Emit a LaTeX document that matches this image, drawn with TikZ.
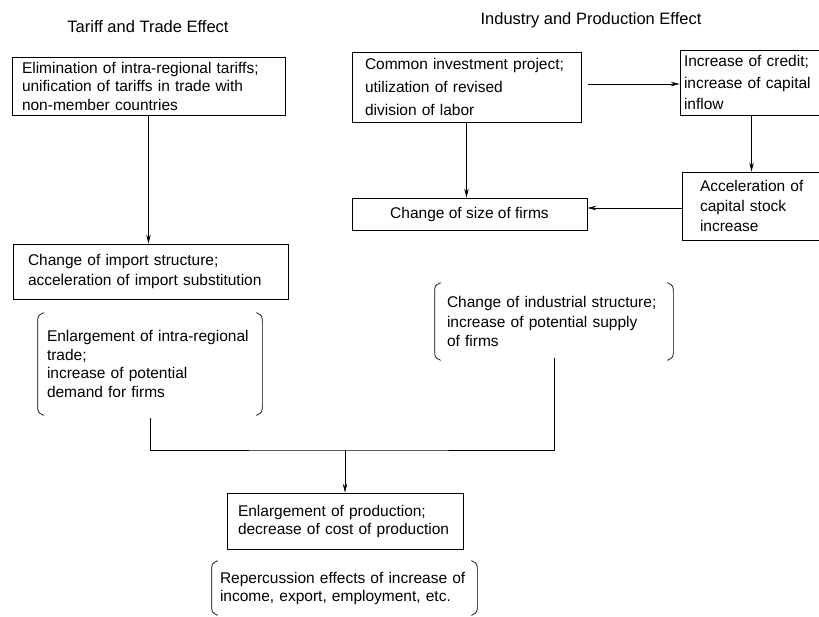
\documentclass[tikz,border=0pt]{standalone}
\usepackage{fontspec}
\setmainfont{Liberation Sans}
\usetikzlibrary{arrows.meta}
\tikzset{
	box/.style={draw, line width=0.7pt, inner sep=0pt, align=left, font={\fontsize{15.5}{18.5}\selectfont}},
	brk/.style={inner sep=0pt, align=left, font={\fontsize{15.5}{18.5}\selectfont}},
	head/.style={font={\fontsize{16.5}{18}\selectfont}}
}
\begin{document}
\begin{tikzpicture}[x=1pt, y=-1pt, >={Stealth[length=9pt,width=4.5pt]}, line width=0.7pt]
	\useasboundingbox (0,0) rectangle (819,616);
	% Headings
	\node[head] (tthead) at (148,27) {Tariff and Trade Effect};
	\node[head] (iphead) at (591,20) {Industry and Production Effect};
	% Tariff and trade side
	\node[box, minimum width=273pt, minimum height=58pt, text width=253pt] (elim) at (148.5,86)
		{Elimination of intra-regional tariffs;\\unification of tariffs in trade with\\non-member countries};
	\node[box, minimum width=275pt, minimum height=55pt, text width=245pt, font={\fontsize{15.5}{20}\selectfont}] (imp) at (150.5,271.5)
		{Change of import structure;\\acceleration of import substitution};
	\node[brk, minimum width=224pt, minimum height=98pt, text width=206pt] (enl) at (150,364)
		{Enlargement of intra-regional\\trade;\\increase of potential\\demand for firms};
	% Industry and production side
	\node[box, minimum width=229pt, minimum height=70pt, text width=203pt, font={\fontsize{15.5}{23}\selectfont}] (inv) at (466.5,87)
		{Common investment project;\\utilization of revised\\division of labor};
	\node[box, minimum width=155pt, minimum height=65pt, text width=147pt, font={\fontsize{15.5}{21.5}\selectfont}] (cred) at (757.5,82.5)
		{Increase of credit;\\increase of capital\\inflow};
	\node[box, minimum width=153pt, minimum height=68pt, text width=117pt, font={\fontsize{15.5}{20}\selectfont}] (accel) at (758.5,206)
		{Acceleration of\\capital stock\\increase};
	\node[box, minimum width=235pt, minimum height=32pt, align=center] (size) at (469.5,214) {Change of size of firms};
	\node[brk, minimum width=238pt, minimum height=73pt, text width=214pt, font={\fontsize{15.5}{19.5}\selectfont}] (ind) at (554,321.5)
		{Change of industrial structure;\\increase of potential supply\\of firms};
	% Result
	\node[box, minimum width=236pt, minimum height=56pt, text width=214pt, font={\fontsize{15.5}{18}\selectfont}] (prod) at (345,521)
		{Enlargement of production;\\decrease of cost of\ production};
	\node[brk, minimum width=265pt, minimum height=50pt, text width=249pt, font={\fontsize{15.5}{18}\selectfont}] (rep) at (344.5,588)
		{Repercussion effects of increase of\\income, export, employment, etc.};
	% Brackets
	\foreach \n in {enl, ind, rep} {
		\draw ([xshift=6pt,yshift=2pt]\n.north west) .. controls ([yshift=-1pt]\n.north west) .. ([yshift=-9pt]\n.north west)
			-- ([yshift=9pt]\n.south west) .. controls ([yshift=1pt]\n.south west) .. ([xshift=6pt,yshift=-2pt]\n.south west);
		\draw ([xshift=-6pt,yshift=2pt]\n.north east) .. controls ([yshift=-1pt]\n.north east) .. ([yshift=-9pt]\n.north east)
			-- ([yshift=9pt]\n.south east) .. controls ([yshift=1pt]\n.south east) .. ([xshift=-6pt,yshift=-2pt]\n.south east);
	}
	% Arrows
	\draw[->] (elim.south) -- (elim.south |- imp.north);
	\draw[->] ([xshift=7pt,yshift=3pt]inv.east) -- ([yshift=3pt]inv.east -| cred.west);
	\draw[->] ([xshift=-6pt]cred.south) -- ([xshift=-6pt]cred.south |- accel.north);
	\draw[->] (inv.south) -- (inv.south |- size.north);
	\draw[->] ([yshift=-2pt]accel.west) -- ([yshift=-2pt]accel.west -| size.east);
	% Joining lines
	\coordinate (join) at (345,450);
	\draw ([yshift=-5pt]enl.south) |- (join) -| (ind.south);
	\draw[->] (join) -- (prod.north);
\end{tikzpicture}
\end{document}
